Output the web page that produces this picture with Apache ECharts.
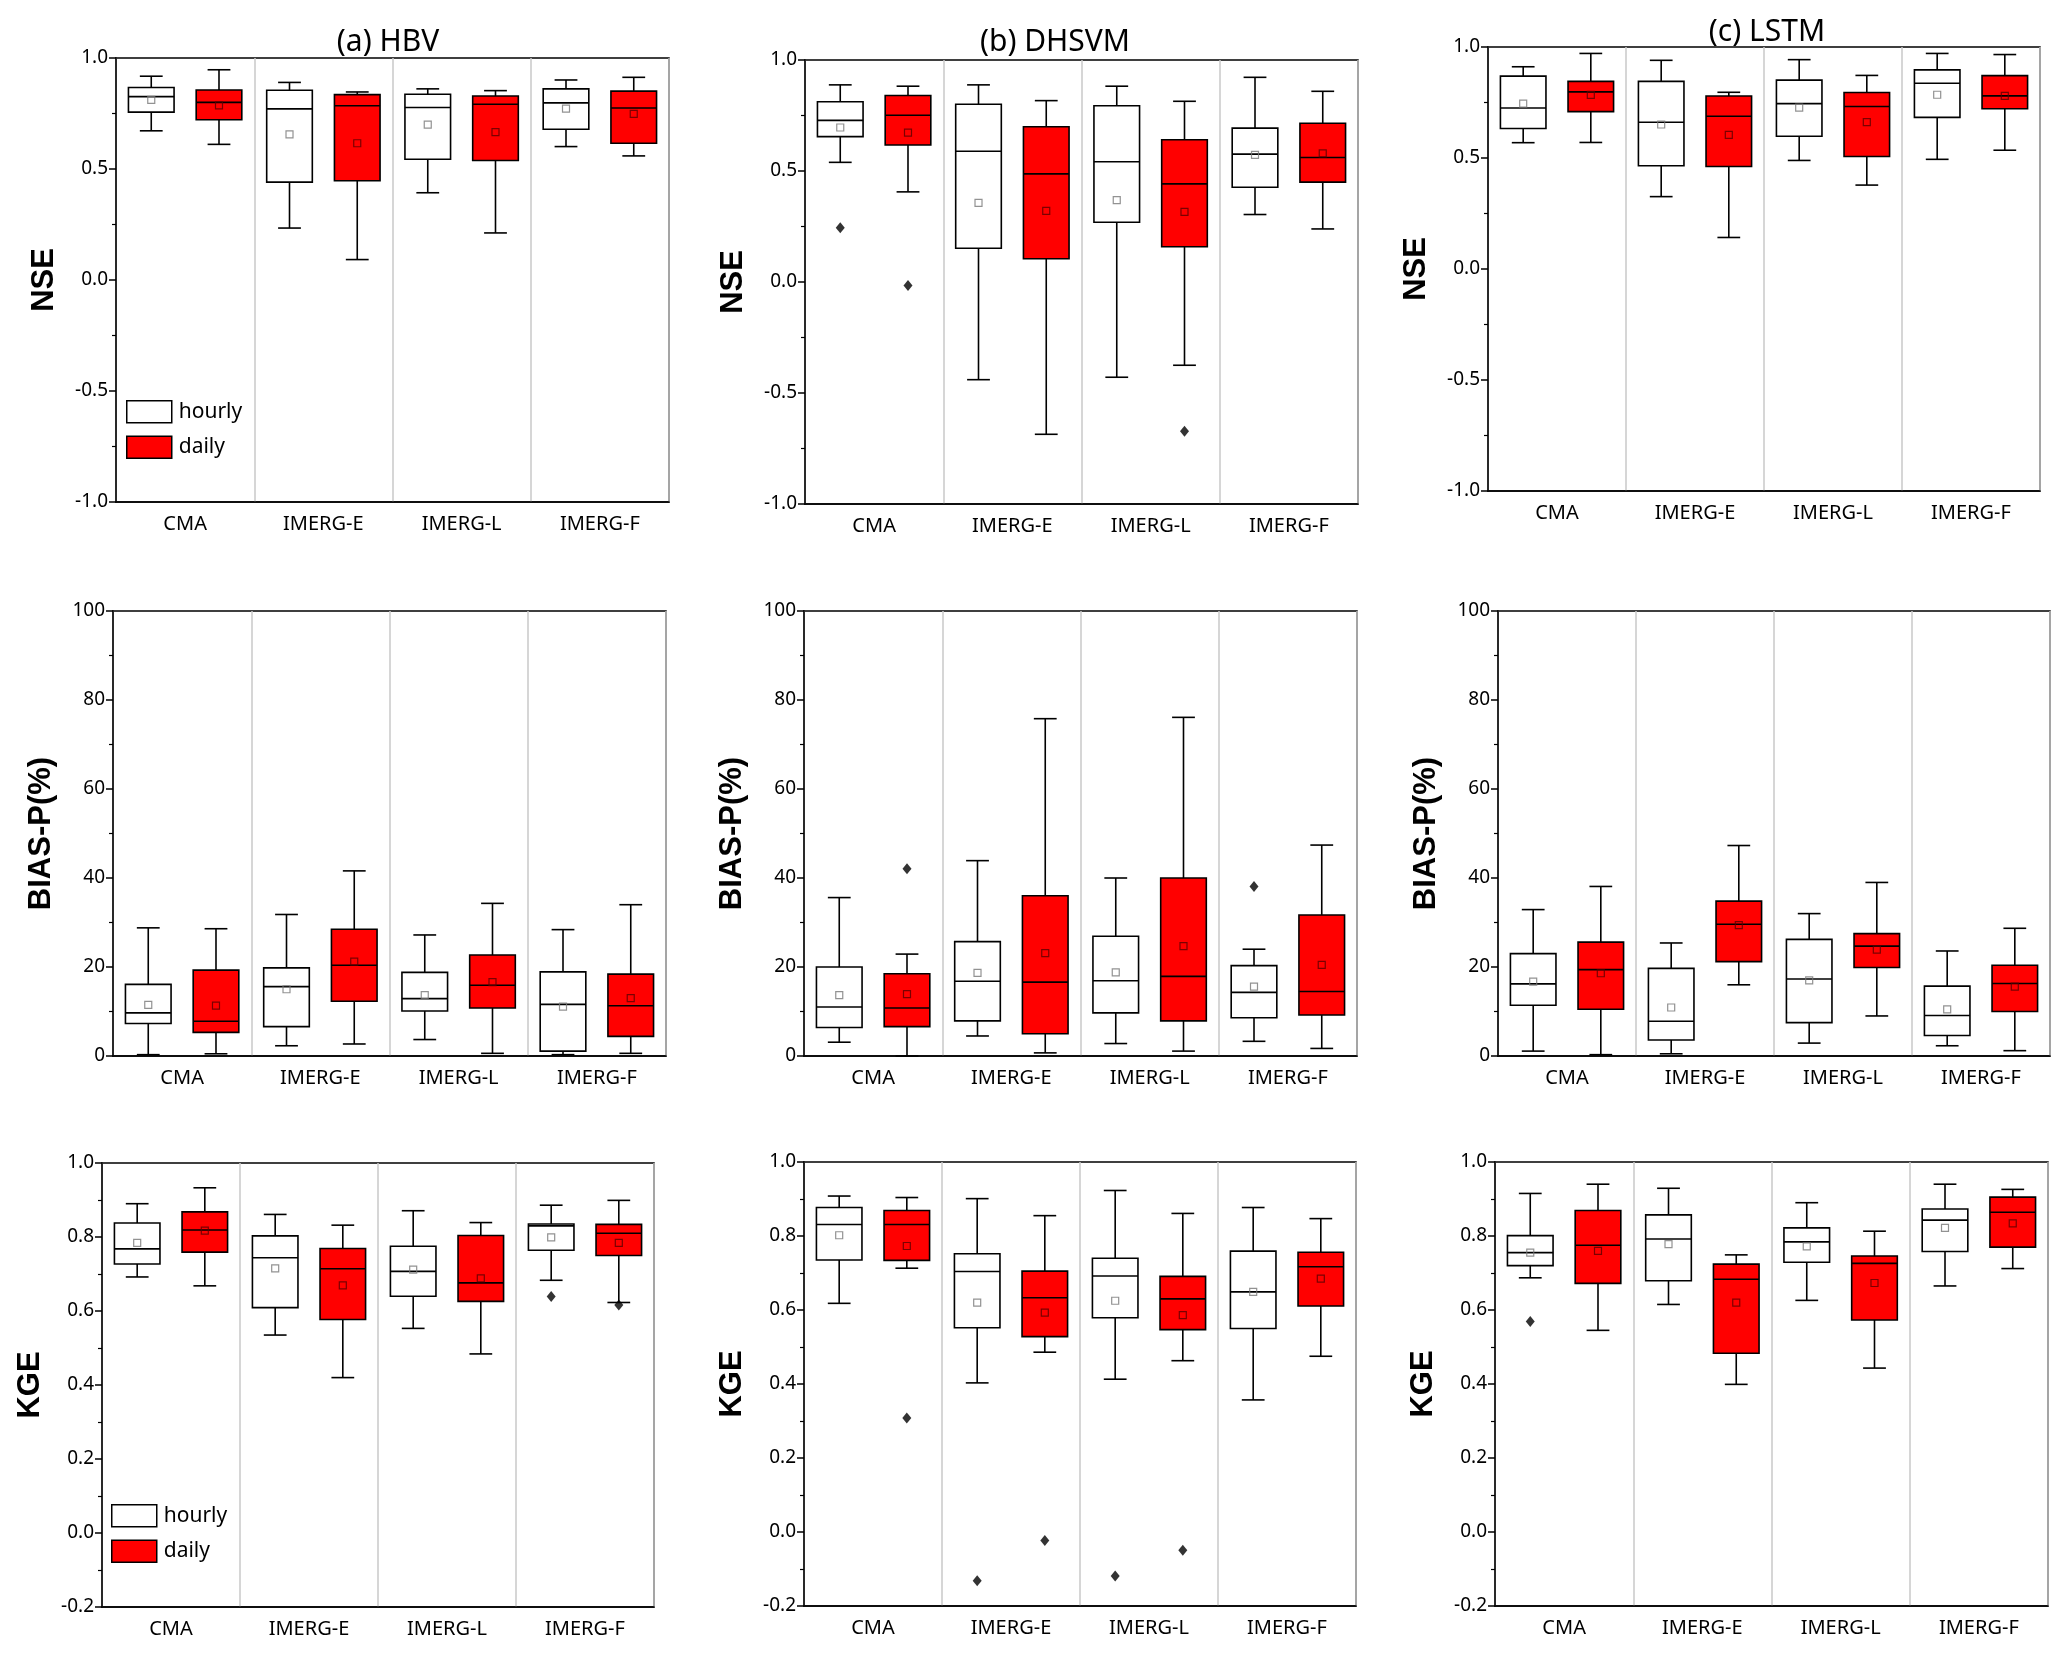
<!DOCTYPE html>
<html>
<head>
<meta charset="utf-8">
<script src="https://cdn.jsdelivr.net/npm/echarts@6/dist/echarts.min.js"></script>
<style>
html,body{margin:0;padding:0;background:#fff;}
#chart{width:2067px;height:1653px;}
</style>
</head>
<body>
<div id="chart"></div>
<script>
// ---------- DATA ----------
const categories = ['CMA', 'IMERG-E', 'IMERG-L', 'IMERG-F'];
const modelTitles = ['(a) HBV', '(b) DHSVM', '(c) LSTM'];
const metricNames = ['NSE', 'BIAS-P(%)', 'KGE'];
const seriesNames = ['hourly', 'daily'];

// boxes: [min, Q1, median, Q3, max] per category
const hbvNseHourly = [[0.672,0.756,0.826,0.867,0.918],[0.234,0.441,0.771,0.855,0.890],[0.393,0.544,0.777,0.837,0.861],[0.601,0.679,0.798,0.861,0.901]];
const hbvNseHourlyMean = [0.811,0.656,0.700,0.772];
const hbvNseHourlyOut = [];
const hbvNseDaily = [[0.611,0.722,0.800,0.856,0.947],[0.092,0.447,0.785,0.835,0.847],[0.212,0.538,0.792,0.829,0.853],[0.559,0.616,0.775,0.851,0.913]];
const hbvNseDailyMean = [0.787,0.616,0.666,0.748];
const hbvNseDailyOut = [];

const dhsvmNseHourly = [[0.539,0.655,0.728,0.812,0.888],[-0.440,0.152,0.589,0.801,0.888],[-0.429,0.269,0.542,0.794,0.882],[0.304,0.427,0.576,0.693,0.922]];
const dhsvmNseHourlyMean = [0.696,0.356,0.369,0.573];
const dhsvmNseHourlyOut = [[0,0.244]];
const dhsvmNseDaily = [[0.406,0.617,0.751,0.840,0.882],[-0.686,0.105,0.487,0.699,0.817],[-0.375,0.159,0.442,0.641,0.814],[0.239,0.450,0.561,0.715,0.859]];
const dhsvmNseDailyMean = [0.673,0.320,0.316,0.579];
const dhsvmNseDailyOut = [[0,-0.016],[2,-0.672]];

const lstmNseHourly = [[0.569,0.633,0.725,0.869,0.911],[0.326,0.465,0.661,0.845,0.940],[0.489,0.598,0.745,0.851,0.943],[0.494,0.683,0.837,0.897,0.971]];
const lstmNseHourlyMean = [0.745,0.651,0.727,0.785];
const lstmNseHourlyOut = [];
const lstmNseDaily = [[0.570,0.709,0.798,0.845,0.971],[0.142,0.462,0.688,0.779,0.796],[0.378,0.507,0.732,0.795,0.872],[0.535,0.722,0.780,0.871,0.966]];
const lstmNseDailyMean = [0.784,0.604,0.662,0.780];
const lstmNseDailyOut = [];

const hbvBiasHourly = [[0.3,7.3,9.7,16.1,28.8],[2.3,6.6,15.6,19.8,31.8],[3.7,10.1,12.9,18.8,27.2],[0.3,1.1,11.6,18.9,28.4]];
const hbvBiasHourlyMean = [11.5,15.0,13.7,11.1];
const hbvBiasHourlyOut = [];
const hbvBiasDaily = [[0.5,5.3,7.8,19.3,28.6],[2.7,12.3,20.4,28.5,41.6],[0.6,10.8,15.9,22.7,34.3],[0.6,4.4,11.3,18.4,34.0]];
const hbvBiasDailyMean = [11.3,21.2,16.6,13.0];
const hbvBiasDailyOut = [];

const dhsvmBiasHourly = [[3.1,6.4,11.0,20.0,35.6],[4.5,7.9,16.8,25.7,43.9],[2.8,9.7,16.9,26.9,40.0],[3.3,8.6,14.3,20.3,24.0]];
const dhsvmBiasHourlyMean = [13.7,18.7,18.8,15.6];
const dhsvmBiasHourlyOut = [[3,38.1]];
const dhsvmBiasDaily = [[0.0,6.6,10.8,18.5,22.9],[0.7,5.0,16.6,36.0,75.8],[1.1,7.9,17.9,40.0,76.1],[1.7,9.2,14.5,31.7,47.4]];
const dhsvmBiasDailyMean = [13.9,23.1,24.7,20.5];
const dhsvmBiasDailyOut = [[0,42.1]];

const lstmBiasHourly = [[1.1,11.4,16.2,23.0,32.9],[0.5,3.6,7.8,19.7,25.4],[2.9,7.5,17.3,26.2,32.0],[2.3,4.6,9.1,15.7,23.6]];
const lstmBiasHourlyMean = [16.7,10.9,17.0,10.5];
const lstmBiasHourlyOut = [];
const lstmBiasDaily = [[0.3,10.5,19.4,25.6,38.1],[16.0,21.2,29.6,34.8,47.3],[9.0,19.9,24.7,27.5,39.0],[1.2,10.0,16.3,20.4,28.7]];
const lstmBiasDailyMean = [18.6,29.4,23.9,15.6];
const lstmBiasDailyOut = [];

const hbvKgeHourly = [[0.692,0.727,0.768,0.838,0.890],[0.535,0.609,0.744,0.803,0.861],[0.553,0.640,0.707,0.775,0.871],[0.683,0.764,0.830,0.835,0.886]];
const hbvKgeHourlyMean = [0.784,0.715,0.712,0.799];
const hbvKgeHourlyOut = [[3,0.639]];
const hbvKgeDaily = [[0.668,0.759,0.819,0.868,0.933],[0.420,0.577,0.714,0.769,0.832],[0.484,0.626,0.676,0.804,0.839],[0.623,0.750,0.810,0.834,0.899]];
const hbvKgeDailyMean = [0.817,0.669,0.688,0.784];
const hbvKgeDailyOut = [[3,0.616]];

const dhsvmKgeHourly = [[0.618,0.735,0.831,0.877,0.908],[0.403,0.552,0.704,0.752,0.901],[0.413,0.579,0.692,0.740,0.923],[0.357,0.550,0.649,0.759,0.877]];
const dhsvmKgeHourlyMean = [0.802,0.620,0.625,0.649];
const dhsvmKgeHourlyOut = [[1,-0.132],[2,-0.119]];
const dhsvmKgeDaily = [[0.713,0.734,0.831,0.869,0.904],[0.486,0.528,0.633,0.705,0.855],[0.463,0.547,0.630,0.691,0.861],[0.475,0.611,0.717,0.756,0.847]];
const dhsvmKgeDailyMean = [0.773,0.593,0.586,0.685];
const dhsvmKgeDailyOut = [[0,0.308],[1,-0.023],[2,-0.049]];

const lstmKgeHourly = [[0.687,0.720,0.755,0.801,0.915],[0.615,0.679,0.792,0.857,0.929],[0.626,0.729,0.784,0.822,0.890],[0.665,0.758,0.843,0.873,0.940]];
const lstmKgeHourlyMean = [0.755,0.778,0.772,0.822];
const lstmKgeHourlyOut = [[0,0.569]];
const lstmKgeDaily = [[0.545,0.672,0.775,0.869,0.940],[0.399,0.483,0.683,0.724,0.749],[0.443,0.573,0.726,0.746,0.813],[0.712,0.770,0.864,0.905,0.926]];
const lstmKgeDailyMean = [0.760,0.620,0.673,0.834];
const lstmKgeDailyOut = [];

// axis ranges per metric row
const nseTicks = {min: -1.0, max: 1.0, interval: 0.5, decimals: 1};
const biasTicks = {min: 0, max: 100, interval: 20, decimals: 0};
const kgeTicks = {min: -0.2, max: 1.0, interval: 0.2, decimals: 1};

// ---------- LAYOUT ----------
const panels = [
  {row:0,grid:{left:116,top:58,width:553,height:444},h:hbvNseHourly,hm:hbvNseHourlyMean,ho:hbvNseHourlyOut,d:hbvNseDaily,dm:hbvNseDailyMean,do_:hbvNseDailyOut,ax:nseTicks},
  {row:0,grid:{left:805,top:60,width:553,height:444},h:dhsvmNseHourly,hm:dhsvmNseHourlyMean,ho:dhsvmNseHourlyOut,d:dhsvmNseDaily,dm:dhsvmNseDailyMean,do_:dhsvmNseDailyOut,ax:nseTicks},
  {row:0,grid:{left:1488,top:47,width:552,height:444},h:lstmNseHourly,hm:lstmNseHourlyMean,ho:lstmNseHourlyOut,d:lstmNseDaily,dm:lstmNseDailyMean,do_:lstmNseDailyOut,ax:nseTicks},
  {row:1,grid:{left:113,top:611,width:553,height:445},h:hbvBiasHourly,hm:hbvBiasHourlyMean,ho:hbvBiasHourlyOut,d:hbvBiasDaily,dm:hbvBiasDailyMean,do_:hbvBiasDailyOut,ax:biasTicks},
  {row:1,grid:{left:804,top:611,width:553,height:445},h:dhsvmBiasHourly,hm:dhsvmBiasHourlyMean,ho:dhsvmBiasHourlyOut,d:dhsvmBiasDaily,dm:dhsvmBiasDailyMean,do_:dhsvmBiasDailyOut,ax:biasTicks},
  {row:1,grid:{left:1498,top:611,width:552,height:445},h:lstmBiasHourly,hm:lstmBiasHourlyMean,ho:lstmBiasHourlyOut,d:lstmBiasDaily,dm:lstmBiasDailyMean,do_:lstmBiasDailyOut,ax:biasTicks},
  {row:2,grid:{left:102,top:1163,width:552,height:444},h:hbvKgeHourly,hm:hbvKgeHourlyMean,ho:hbvKgeHourlyOut,d:hbvKgeDaily,dm:hbvKgeDailyMean,do_:hbvKgeDailyOut,ax:kgeTicks},
  {row:2,grid:{left:804,top:1162,width:552,height:444},h:dhsvmKgeHourly,hm:dhsvmKgeHourlyMean,ho:dhsvmKgeHourlyOut,d:dhsvmKgeDaily,dm:dhsvmKgeDailyMean,do_:dhsvmKgeDailyOut,ax:kgeTicks},
  {row:2,grid:{left:1495,top:1162,width:553,height:444},h:lstmKgeHourly,hm:lstmKgeHourlyMean,ho:lstmKgeHourlyOut,d:lstmKgeDaily,dm:lstmKgeDailyMean,do_:lstmKgeDailyOut,ax:kgeTicks}
];

const FONT = 'Noto Sans';
const HOURLY_FILL = '#ffffff', DAILY_FILL = '#ff0000';
const BOX_FRAC = 0.33;     // box width as fraction of category band
const OFFSET_FRAC = 0.245; // box centre offset from band centre, fraction of band
const CAP_FRAC = 0.5;      // whisker cap width relative to box width
const grids = [], xAxes = [], yAxes = [], series = [];

function makeBoxRenderer(sign, fill) {
  return function (params, api) {
    const idx = api.value(0);
    const band = api.size([1, 0])[0];
    const cx = api.coord([idx, 0])[0] + sign * OFFSET_FRAC * band;
    const y = k => api.coord([idx, api.value(k)])[1];
    const yMin = y(1), yQ1 = y(2), yMed = y(3), yQ3 = y(4), yMax = y(5);
    const hw = BOX_FRAC * band / 2;
    const cw = hw * CAP_FRAC;
    const ls = {stroke: '#000', lineWidth: 1.6};
    return {
      type: 'group',
      children: [
        {type: 'line', shape: {x1: cx, y1: yMax, x2: cx, y2: yQ3}, style: ls},
        {type: 'line', shape: {x1: cx, y1: yQ1, x2: cx, y2: yMin}, style: ls},
        {type: 'line', shape: {x1: cx - cw, y1: yMax, x2: cx + cw, y2: yMax}, style: ls},
        {type: 'line', shape: {x1: cx - cw, y1: yMin, x2: cx + cw, y2: yMin}, style: ls},
        {type: 'rect', shape: {x: cx - hw, y: yQ3, width: 2 * hw, height: yQ1 - yQ3},
          style: {fill: fill, stroke: '#000', lineWidth: 1.6}},
        {type: 'line', shape: {x1: cx - hw, y1: yMed, x2: cx + hw, y2: yMed}, style: ls}
      ]
    };
  };
}

panels.forEach((p, i) => {
  grids.push(Object.assign({show: true, borderColor: '#000', borderWidth: 1.5, backgroundColor: '#fff'}, p.grid));
  xAxes.push({
    type: 'category', gridIndex: i, data: categories,
    axisLine: {onZero: false, lineStyle: {color: '#000', width: 1.5}},
    axisTick: {alignWithLabel: true, length: 8, lineStyle: {color: '#000', width: 1.5}},
    axisLabel: {color: '#000', fontSize: 20, fontFamily: FONT, margin: 12},
    splitLine: {show: true, lineStyle: {color: '#c8c8c8', width: 1.5}}
  });
  yAxes.push({
    type: 'value', gridIndex: i, min: p.ax.min, max: p.ax.max, interval: p.ax.interval,
    name: metricNames[p.row], nameLocation: 'middle', nameGap: 56,
    nameTextStyle: {fontSize: 31, fontWeight: 'bold', color: '#000', fontFamily: 'Liberation Sans'},
    axisLine: {show: true, onZero: false, lineStyle: {color: '#000', width: 1.5}},
    axisTick: {show: true, length: 7, lineStyle: {color: '#000', width: 1.5}},
    minorTick: {show: true, splitNumber: 2, length: 4, lineStyle: {color: '#000', width: 1.2}},
    axisLabel: {color: '#000', fontSize: 19, fontFamily: FONT, margin: 8,
      formatter: v => v.toFixed(p.ax.decimals)},
    splitLine: {show: false}
  });
  const band = p.grid.width / categories.length;
  const off = OFFSET_FRAC * band;
  const common = {xAxisIndex: i, yAxisIndex: i, silent: true};
  const toRows = arr => arr.map((b, k) => [k].concat(b));
  series.push(Object.assign({type: 'custom', name: 'hourly', data: toRows(p.h), z: 2,
    encode: {x: 0, y: [1, 2, 3, 4, 5]}, itemStyle: {color: HOURLY_FILL},
    renderItem: makeBoxRenderer(-1, HOURLY_FILL)}, common));
  series.push(Object.assign({type: 'custom', name: 'daily', data: toRows(p.d), z: 2,
    encode: {x: 0, y: [1, 2, 3, 4, 5]}, itemStyle: {color: DAILY_FILL},
    renderItem: makeBoxRenderer(1, DAILY_FILL)}, common));
  series.push(Object.assign({type: 'scatter', name: 'hourly-mean', z: 5,
    data: p.hm.map((v, k) => [k, v]), symbol: 'rect', symbolSize: 7, symbolOffset: [-off, 0],
    itemStyle: {color: 'rgba(0,0,0,0)', borderColor: '#777', borderWidth: 1.2}}, common));
  series.push(Object.assign({type: 'scatter', name: 'daily-mean', z: 5,
    data: p.dm.map((v, k) => [k, v]), symbol: 'rect', symbolSize: 7, symbolOffset: [off, 0],
    itemStyle: {color: 'rgba(0,0,0,0)', borderColor: '#5a0000', borderWidth: 1.2}}, common));
  series.push(Object.assign({type: 'scatter', name: 'hourly-outlier', z: 5,
    data: p.ho, symbol: 'diamond', symbolSize: [9, 11], symbolOffset: [-off, 0],
    itemStyle: {color: '#000'}}, common));
  series.push(Object.assign({type: 'scatter', name: 'daily-outlier', z: 5,
    data: p.do_, symbol: 'diamond', symbolSize: [9, 11], symbolOffset: [off, 0],
    itemStyle: {color: '#000'}}, common));
});

const titles = [
  {text: modelTitles[0], left: 383, top: 22},
  {text: modelTitles[1], left: 1050, top: 22},
  {text: modelTitles[2], left: 1762, top: 12}
].map(t => ({text: t.text, left: t.left, top: t.top, textAlign: 'center',
  textStyle: {fontSize: 30, fontWeight: 'normal', color: '#000', fontFamily: FONT}}));

const legendItems = [
  {name: seriesNames[0], itemStyle: {color: HOURLY_FILL, borderColor: '#000', borderWidth: 1.5}},
  {name: seriesNames[1], itemStyle: {color: DAILY_FILL, borderColor: '#000', borderWidth: 1.5}}
];
const legendBase = {
  data: legendItems, orient: 'vertical', itemWidth: 45, itemHeight: 22, itemGap: 12,
  icon: 'rect', selectedMode: false,
  textStyle: {fontSize: 21, color: '#000', fontFamily: FONT, padding: [0, 0, 0, 2]}
};

const chart = echarts.init(document.getElementById('chart'));
chart.setOption({
  animation: false,
  backgroundColor: '#fff',
  title: titles,
  legend: [
    Object.assign({left: 121, top: 395}, legendBase),
    Object.assign({left: 106, top: 1499}, legendBase)
  ],
  grid: grids,
  xAxis: xAxes,
  yAxis: yAxes,
  series: series
});
</script>
</body>
</html>
